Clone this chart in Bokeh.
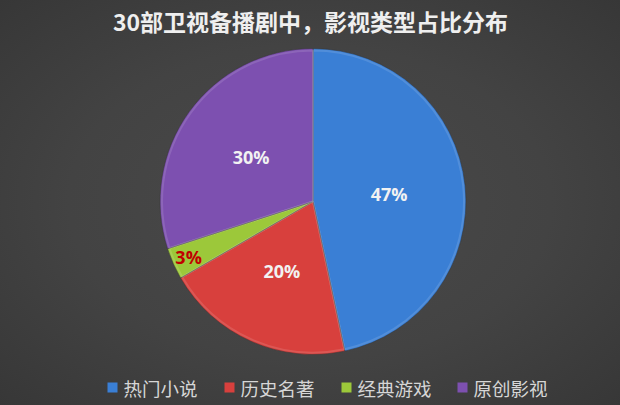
import math
from bokeh.plotting import figure
from bokeh.models import ColumnDataSource, GlobalInlineStyleSheet
from bokeh.core.properties import value
from bokeh.embed import file_html
from bokeh.resources import INLINE

# data
title_text = "30部卫视备播剧中，影视类型占比分布"
categories = ["热门小说", "历史名著", "经典游戏", "原创影视"]
counts = [14, 6, 1, 9]
colors = ["#3A7FD5", "#D8403D", "#9CC83A", "#7D50B0"]
label_colors = ["#F2F2F2", "#F2F2F2", "#C00000", "#F2F2F2"]
label_radius_frac = [0.5, 0.5, 0.89, 0.5]

W, H = 620, 405
BG = "#3C3C3C"
css = ("body{background:radial-gradient(ellipse at 50% 50%, "
       "#4A4A4A 0%, #434343 55%, #373737 100%);}")

p = figure(width=W, height=H, x_range=(0, W), y_range=(0, H),
           output_backend="svg", toolbar_location=None, min_border=0,
           x_axis_location=None, y_axis_location=None,
           background_fill_color=BG, border_fill_color=BG,
           stylesheets=[GlobalInlineStyleSheet(css=css)])
p.background_fill_alpha = 0
p.border_fill_alpha = 0
p.outline_line_color = None
p.grid.visible = False

cx, cy, R = 312.5, 204.0, 153.0
total = sum(counts)
starts, ends, lx, ly, labels = [], [], [], [], []
cum = 0.0
for c, rf in zip(counts, label_radius_frac):
    f0 = cum / total
    cum += c
    f1 = cum / total
    starts.append(math.pi / 2 - 2 * math.pi * f0)
    ends.append(math.pi / 2 - 2 * math.pi * f1)
    mid = math.pi / 2 - 2 * math.pi * (f0 + f1) / 2
    lx.append(cx + rf * R * math.cos(mid))
    ly.append(cy + rf * R * math.sin(mid))
    labels.append(f"{round(100 * c / total)}%")

src = ColumnDataSource(dict(start=starts, end=ends, color=colors,
                            lx=lx, ly=ly, label=labels, lcolor=label_colors))
p.wedge(x=cx, y=cy, radius=R, start_angle="start", end_angle="end",
        direction="clock", fill_color="color", line_color="#3A3A3A",
        line_width=1, line_alpha=0.6, source=src)
# subtle bevel highlight
p.wedge(x=cx, y=cy, radius=R - 2, start_angle="start", end_angle="end",
        direction="clock", fill_color=None, line_color="white",
        line_alpha=0.12, line_width=2, source=src)

p.text(x="lx", y="ly", text="label", text_color="lcolor", source=src,
       text_align="center", text_baseline="middle",
       text_font=value("Open Sans"), text_font_style="bold",
       text_font_size="18px")

# title
p.text(x=[310], y=[385], text=[title_text], text_align="center",
       text_baseline="middle", text_color="#EFEFEF",
       text_font=value("Noto Sans CJK SC"), text_font_style="bold",
       text_font_size="23px")

# legend
leg_x = [112, 229, 346, 462]
leg_y = 18
p.rect(x=leg_x, y=[leg_y] * 4, width=10, height=10, fill_color=colors,
       line_color=None)
p.text(x=[x + 11 for x in leg_x], y=[leg_y] * 4, text=categories,
       text_align="left", text_baseline="middle", text_color="#D6D6D6",
       text_font=value("Noto Sans CJK SC"), text_font_size="18.5px")

open("out.html", "w").write(file_html(p, INLINE))
